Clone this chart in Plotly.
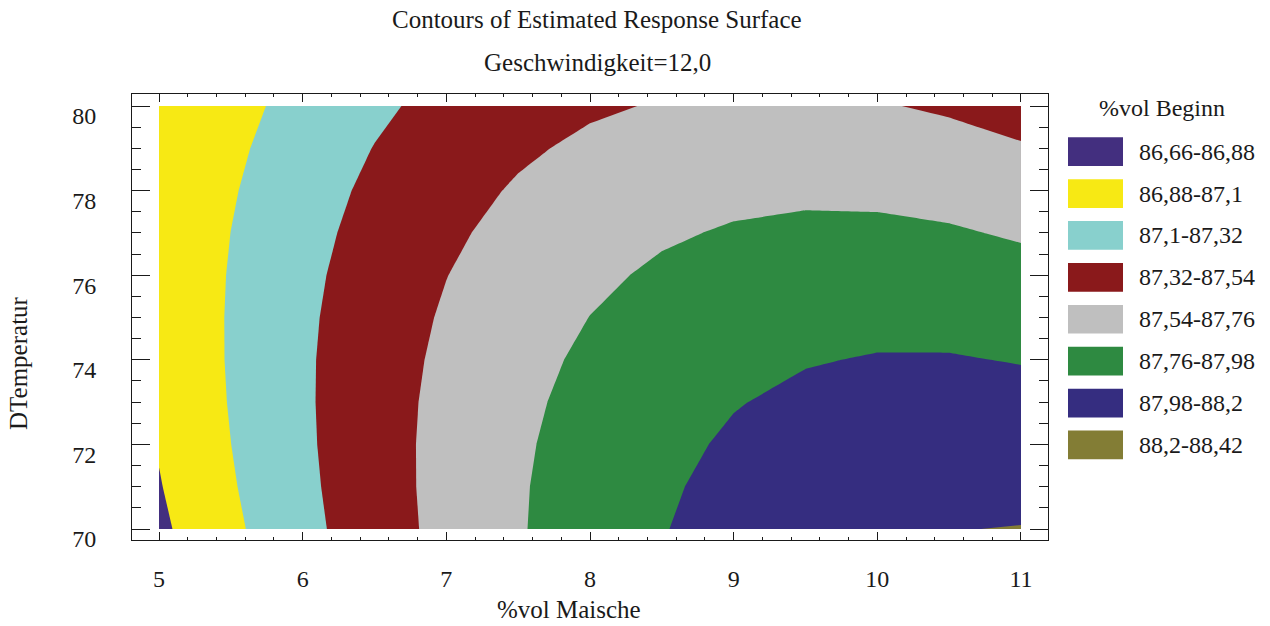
import plotly.graph_objects as go

# Grid of the estimated response surface (Geschwindigkeit fixed at 12,0)
x_maische = [5.0, 5.5, 6.0, 6.5, 7.0, 7.5, 8.0, 8.5, 9.0, 9.5, 10.0, 10.5, 11.0]
y_temperatur = [70, 71, 72, 73, 74, 75, 76, 77, 78, 79, 80]

# %vol Beginn, one row per temperature value
z_70 = [86.839, 87.058, 87.259, 87.440, 87.601, 87.744, 87.867, 87.971, 88.056, 88.121, 88.167, 88.196, 88.205]
z_71 = [86.869, 87.082, 87.275, 87.450, 87.605, 87.741, 87.857, 87.955, 88.033, 88.092, 88.132, 88.152, 88.153]
z_72 = [86.893, 87.099, 87.286, 87.454, 87.603, 87.732, 87.842, 87.933, 88.005, 88.057, 88.090, 88.104, 88.099]
z_73 = [86.911, 87.111, 87.291, 87.453, 87.595, 87.718, 87.821, 87.906, 87.971, 88.016, 88.043, 88.050, 88.038]
z_74 = [86.924, 87.117, 87.291, 87.446, 87.581, 87.698, 87.795, 87.872, 87.931, 87.970, 87.990, 87.991, 87.972]
z_75 = [86.931, 87.117, 87.285, 87.433, 87.562, 87.672, 87.762, 87.833, 87.885, 87.918, 87.932, 87.926, 87.901]
z_76 = [86.932, 87.112, 87.273, 87.415, 87.537, 87.640, 87.724, 87.789, 87.834, 87.860, 87.867, 87.855, 87.824]
z_77 = [86.927, 87.101, 87.255, 87.390, 87.506, 87.603, 87.680, 87.738, 87.777, 87.797, 87.797, 87.779, 87.740]
z_78 = [86.917, 87.084, 87.232, 87.361, 87.470, 87.560, 87.631, 87.683, 87.715, 87.728, 87.722, 87.696, 87.652]
z_79 = [86.901, 87.062, 87.203, 87.325, 87.428, 87.511, 87.576, 87.621, 87.647, 87.653, 87.640, 87.608, 87.557]
z_80 = [86.882, 87.034, 87.169, 87.284, 87.380, 87.457, 87.515, 87.553, 87.573, 87.573, 87.553, 87.515, 87.457]
z_beginn = [z_70, z_71, z_72, z_73, z_74, z_75, z_76, z_77, z_78, z_79, z_80]

# Contour bands
band_start = 86.66
band_end = 88.42
band_size = 0.22
band_labels = ["86,66-86,88", "86,88-87,1", "87,1-87,32", "87,32-87,54",
               "87,54-87,76", "87,76-87,98", "87,98-88,2", "88,2-88,42"]
band_colors = ["#432f7f", "#f7e914", "#88d0cd", "#8a191b",
               "#bfbfbf", "#2e8a41", "#352d80", "#837d35"]

x_ticks = [5, 6, 7, 8, 9, 10, 11]
y_ticks = [70, 72, 74, 76, 78, 80]

FONT = "Liberation Serif"
INK = "#1a1a1a"

# Stepped colour scale: plotly samples each fill band at (k+1)/(n+1)
slots = [band_colors[0]] + band_colors + [band_colors[-1]]
steps = len(slots) - 1
colorscale = []
for k, c in enumerate(slots):
    lo = max(0.0, (k - 0.5) / steps)
    hi = min(1.0, (k + 0.5) / steps)
    colorscale.append([lo, c])
    colorscale.append([hi, c])

fig = go.Figure()
fig.add_trace(go.Contour(
    x=x_maische, y=y_temperatur, z=z_beginn,
    autocontour=False,
    contours=dict(start=band_start, end=band_end, size=band_size,
                  coloring="fill", showlines=False),
    line=dict(width=0, smoothing=0),
    colorscale=colorscale, showscale=False, hoverinfo="skip",
))

# Plot frame in pixels
PL, PR, PT, PB = 132, 1048, 94, 540


def fx(px):
    return (px - PL) / (PR - PL)


def fy(py):
    return (PB - py) / (PB - PT)


annotations = [
    dict(text="Contours of Estimated Response Surface", x=fx(597), y=fy(20),
         font=dict(size=25)),
    dict(text="Geschwindigkeit=12,0", x=fx(597), y=fy(62), font=dict(size=25)),
    dict(text="%vol Maische", x=fx(569), y=fy(609), font=dict(size=25)),
    dict(text="DTemperatur", x=fx(18), y=fy(363), textangle=-90, font=dict(size=25)),
    dict(text="%vol Beginn", x=fx(1162), y=fy(108), font=dict(size=24)),
]
for a in annotations:
    a.update(xref="paper", yref="paper", showarrow=False,
             xanchor="center", yanchor="middle")

shapes = []
row_top, row_step, sw_h = 137.3, 41.9, 28.7
for i, (lab, col) in enumerate(zip(band_labels, band_colors)):
    top = row_top + i * row_step
    shapes.append(dict(type="rect", xref="paper", yref="paper",
                       x0=fx(1068), x1=fx(1123), y0=fy(top + sw_h), y1=fy(top),
                       fillcolor=col, line=dict(width=0)))
    annotations.append(dict(text=lab, xref="paper", yref="paper", showarrow=False,
                            x=fx(1137), y=fy(top + sw_h / 2), xanchor="left",
                            yanchor="middle", font=dict(size=24)))

axis_common = dict(
    ticks="inside", tickwidth=1, tickcolor=INK, showline=True, linecolor=INK,
    linewidth=1, mirror="allticks", showgrid=False, zeroline=False,
    tickfont=dict(size=24, family=FONT, color=INK),
)

fig.update_layout(
    width=1270, height=626,
    margin=dict(l=PL, r=1270 - PR, t=PT, b=626 - PB, pad=0),
    paper_bgcolor="white", plot_bgcolor="white",
    font=dict(family=FONT, color=INK),
    showlegend=False,
    xaxis=dict(range=[4.812, 11.188], tickvals=x_ticks, ticklen=8,
               minor=dict(dtick=0.2, tick0=5, ticks="inside", ticklen=3,
                          tickcolor=INK, tickwidth=1),
               ticklabelstandoff=17, **axis_common),
    yaxis=dict(range=[69.74, 80.284], tickvals=y_ticks, ticklen=18,
               minor=dict(dtick=0.5, tick0=70, ticks="inside", ticklen=9,
                          tickcolor=INK, tickwidth=1),
               ticklabelstandoff=30, ticklabelshift=10, **axis_common),
    annotations=annotations,
    shapes=shapes,
)

fig.write_html("out.html")
